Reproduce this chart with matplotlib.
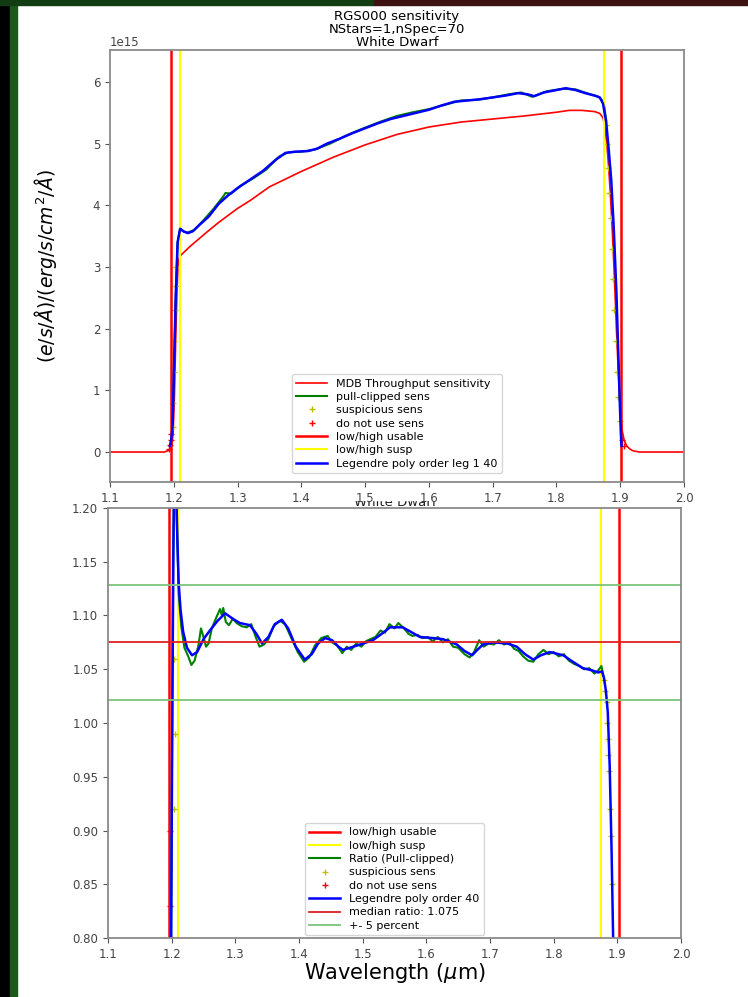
import matplotlib
matplotlib.use('Agg')
import matplotlib.pyplot as plt
from matplotlib.patches import Rectangle

# --- sensitivity (units of 1e15) ---
mdb_wl = [1.10, 1.15, 1.185, 1.193, 1.197, 1.199, 1.201, 1.203, 1.205, 1.207, 1.210, 1.225,
          1.25, 1.27, 1.30, 1.32, 1.35, 1.40, 1.45, 1.50, 1.55, 1.60, 1.65, 1.70, 1.75,
          1.80, 1.82, 1.84, 1.86, 1.868, 1.873, 1.876, 1.879, 1.882, 1.885, 1.888,
          1.891, 1.894, 1.897, 1.900, 1.903, 1.906, 1.910, 1.915, 1.92, 1.93, 2.00]
mdb_sens = [0.0, 0.0, 0.0, 0.03, 0.1, 0.3, 0.9, 1.8, 2.6, 3.1, 3.18, 3.33,
            3.55, 3.72, 3.95, 4.08, 4.30, 4.55, 4.78, 4.98, 5.15, 5.27, 5.35, 5.40, 5.45,
            5.51, 5.54, 5.54, 5.52, 5.49, 5.42, 5.27, 5.0, 4.6, 4.1, 3.5,
            2.8, 2.0, 1.3, 0.7, 0.35, 0.2, 0.1, 0.05, 0.02, 0.0, 0.0]

fit_wl = [1.194, 1.196, 1.198, 1.200, 1.203, 1.206, 1.210, 1.215, 1.222, 1.230, 1.240,
          1.255, 1.270, 1.285, 1.300, 1.320, 1.340, 1.360, 1.375, 1.390, 1.410, 1.425,
          1.440, 1.460, 1.480, 1.500, 1.520, 1.540, 1.560, 1.580, 1.600, 1.620, 1.640,
          1.660, 1.680, 1.700, 1.720, 1.740, 1.755, 1.765, 1.780, 1.800, 1.815, 1.830,
          1.845, 1.860, 1.868, 1.873, 1.878, 1.882, 1.886, 1.890, 1.894, 1.897, 1.899,
          1.901, 1.902]
fit_sens = [0.1, 0.2, 0.4, 1.2, 2.5, 3.4, 3.62, 3.58, 3.55, 3.58, 3.68,
            3.82, 4.02, 4.16, 4.28, 4.42, 4.56, 4.74, 4.85, 4.87, 4.88, 4.92,
            5.00, 5.08, 5.17, 5.25, 5.33, 5.40, 5.45, 5.50, 5.55, 5.62, 5.68,
            5.70, 5.72, 5.75, 5.78, 5.82, 5.80, 5.77, 5.83, 5.87, 5.90, 5.87,
            5.82, 5.78, 5.75, 5.65, 5.35, 4.90, 4.40, 3.60, 2.60, 1.60, 0.90,
            0.30, 0.10]

clip_wl = [1.198, 1.200, 1.203, 1.206, 1.210, 1.216, 1.222, 1.232, 1.245, 1.262, 1.278,
           1.281, 1.290, 1.305, 1.325, 1.345, 1.365, 1.380, 1.400, 1.420, 1.445, 1.470,
           1.495, 1.525, 1.550, 1.575, 1.600, 1.625, 1.650, 1.675, 1.700, 1.725, 1.745,
           1.762, 1.785, 1.810, 1.830, 1.850, 1.866, 1.874, 1.878]
clip_sens = [0.4, 1.2, 2.5, 3.4, 3.63, 3.57, 3.56, 3.60, 3.74, 3.94, 4.15,
             4.20, 4.19, 4.32, 4.44, 4.58, 4.79, 4.86, 4.87, 4.90, 5.00, 5.13,
             5.24, 5.36, 5.45, 5.51, 5.56, 5.63, 5.70, 5.71, 5.75, 5.80, 5.83,
             5.76, 5.85, 5.89, 5.88, 5.81, 5.76, 5.68, 5.38]

susp_wl = [1.198, 1.199, 1.200, 1.201, 1.202, 1.203, 1.204,
           1.877, 1.879, 1.881, 1.883, 1.885, 1.887, 1.889, 1.891, 1.893, 1.895, 1.897, 1.899]
susp_sens = [0.4, 0.8, 1.3, 1.8, 2.3, 2.7, 3.0,
             5.3, 5.0, 4.6, 4.2, 3.8, 3.3, 2.8, 2.3, 1.8, 1.3, 0.9, 0.5]
bad_wl = [1.192, 1.194, 1.195, 1.196, 1.903, 1.906]
bad_sens = [0.05, 0.12, 0.2, 0.3, 0.2, 0.1]

# --- ratio to median ---
ratio_wl = [1.199, 1.202, 1.205, 1.208, 1.211, 1.215, 1.220, 1.226, 1.231, 1.236, 1.242,
            1.246, 1.250, 1.254, 1.258, 1.263, 1.270, 1.276, 1.279, 1.281, 1.285, 1.290,
            1.296, 1.302, 1.310, 1.318, 1.325, 1.332, 1.338, 1.345, 1.352, 1.360, 1.370,
            1.378, 1.388, 1.398, 1.408, 1.416, 1.425, 1.435, 1.445, 1.452, 1.460, 1.468,
            1.475, 1.482, 1.490, 1.498, 1.505, 1.512, 1.520, 1.528, 1.535, 1.542, 1.550,
            1.556, 1.565, 1.572, 1.578, 1.586, 1.594, 1.602, 1.610, 1.618, 1.626, 1.634,
            1.642, 1.650, 1.660, 1.668, 1.675, 1.683, 1.690, 1.698, 1.706, 1.714, 1.722,
            1.730, 1.738, 1.745, 1.752, 1.760, 1.768, 1.776, 1.784, 1.792, 1.800, 1.808,
            1.816, 1.824, 1.832, 1.840, 1.848, 1.856, 1.864, 1.870, 1.875, 1.878]
ratio_val = [0.78, 1.15, 1.28, 1.19, 1.12, 1.09, 1.07, 1.062, 1.054, 1.058, 1.072,
             1.088, 1.080, 1.071, 1.074, 1.088, 1.098, 1.106, 1.100, 1.107, 1.094, 1.091,
             1.097, 1.093, 1.090, 1.089, 1.092, 1.080, 1.071, 1.073, 1.078, 1.090, 1.095,
             1.092, 1.079, 1.066, 1.057, 1.061, 1.072, 1.079, 1.081, 1.075, 1.072, 1.065,
             1.071, 1.068, 1.074, 1.071, 1.076, 1.078, 1.080, 1.086, 1.084, 1.092, 1.088,
             1.093, 1.088, 1.083, 1.081, 1.082, 1.079, 1.080, 1.076, 1.080, 1.075, 1.078,
             1.071, 1.070, 1.064, 1.061, 1.066, 1.077, 1.071, 1.074, 1.073, 1.077, 1.073,
             1.075, 1.069, 1.067, 1.062, 1.058, 1.057, 1.064, 1.068, 1.064, 1.066, 1.062,
             1.064, 1.058, 1.055, 1.053, 1.050, 1.051, 1.046, 1.049, 1.053, 1.044]

leg_wl = [1.199, 1.2005, 1.202, 1.2035, 1.205, 1.207, 1.209, 1.211, 1.214, 1.218, 1.224,
          1.232, 1.240, 1.250, 1.260, 1.272, 1.284, 1.296, 1.307, 1.323, 1.333, 1.342,
          1.352, 1.362, 1.373, 1.383, 1.395, 1.409, 1.420, 1.430, 1.441, 1.452, 1.462,
          1.469, 1.480, 1.496, 1.516, 1.530, 1.543, 1.563, 1.575, 1.590, 1.610, 1.626,
          1.648, 1.660, 1.672, 1.680, 1.689, 1.705, 1.727, 1.742, 1.755, 1.768, 1.780,
          1.794, 1.815, 1.830, 1.846, 1.860, 1.870, 1.876, 1.879, 1.882, 1.885, 1.888,
          1.891, 1.894]
leg_val = [0.78, 0.95, 1.10, 1.21, 1.26, 1.22, 1.17, 1.13, 1.105, 1.085, 1.070,
           1.063, 1.066, 1.078, 1.086, 1.095, 1.102, 1.097, 1.093, 1.091, 1.083, 1.074,
           1.080, 1.092, 1.096, 1.088, 1.071, 1.059, 1.064, 1.074, 1.079, 1.077, 1.071,
           1.068, 1.070, 1.073, 1.077, 1.083, 1.089, 1.089, 1.085, 1.080, 1.079, 1.078,
           1.073, 1.067, 1.063, 1.068, 1.073, 1.075, 1.074, 1.071, 1.064, 1.059, 1.063,
           1.066, 1.063, 1.057, 1.051, 1.049, 1.047, 1.048, 1.042, 1.030, 1.010, 0.960,
           0.880, 0.780]

rsusp_wl = [1.203, 1.204, 1.205, 1.879, 1.881, 1.883, 1.884, 1.885, 1.886, 1.887, 1.889, 1.890, 1.892]
rsusp_val = [0.92, 1.06, 0.99, 1.04, 1.03, 1.02, 1.00, 0.985, 0.97, 0.955, 0.92, 0.895, 0.85]
rbad_wl = [1.197, 1.198]
rbad_val = [0.83, 0.90]

usable = [1.196, 1.902]
susp = [1.210, 1.874]
median_ratio = 1.075

fig = plt.figure(figsize=(7.48, 9.97), dpi=100, facecolor='black')
fig.add_artist(Rectangle((18 / 748, 0), 1 - 18 / 748, 1 - 6 / 997,
                         transform=fig.transFigure, color='white', zorder=-5))
fig.add_artist(Rectangle((10 / 748, 0), 7 / 748, 1, transform=fig.transFigure,
                         color='#1c5a1c', zorder=-5))
fig.add_artist(Rectangle((0, 1 - 5 / 997), 0.5, 5 / 997, transform=fig.transFigure,
                         color='#123d12', zorder=-5))
fig.add_artist(Rectangle((0.5, 1 - 5 / 997), 0.5, 5 / 997, transform=fig.transFigure,
                         color='#3d1212', zorder=-5))

tick_kw = dict(labelsize=8.5, colors='#555555', labelcolor='#444444')
spine_col = '#8a8a8a'
leg_kw = dict(loc='lower center', fontsize=8, handlelength=2.8, labelspacing=0.3,
              framealpha=0.8)

# top panel: sensitivity
ax1 = fig.add_axes([110 / 748, 1 - 482 / 997, 574 / 748, 432 / 997])
e15 = 1e15
ax1.plot(mdb_wl, [v * e15 for v in mdb_sens], color='red', lw=1.2, label='MDB Throughput sensitivity')
ax1.plot(clip_wl, [v * e15 for v in clip_sens], color='green', lw=1.5, label='pull-clipped sens')
ax1.plot(susp_wl, [v * e15 for v in susp_sens], '+', color='y', ms=5, label='suspicious sens')
ax1.plot(bad_wl, [v * e15 for v in bad_sens], '+', color='red', ms=5, label='do not use sens')
ax1.axvline(usable[0], color='red', lw=1.8, label='low/high usable')
ax1.axvline(usable[1], color='red', lw=1.8)
ax1.axvline(susp[0], color='yellow', lw=1.5, label='low/high susp')
ax1.axvline(susp[1], color='yellow', lw=1.5)
ax1.plot(fit_wl, [v * e15 for v in fit_sens], color='blue', lw=1.8, label='Legendre poly order leg 1 40')
ax1.set_xlim(1.1, 2.0)
ax1.set_ylim(-0.486e15, 6.519e15)
ax1.set_xticks([1.1, 1.2, 1.3, 1.4, 1.5, 1.6, 1.7, 1.8, 1.9, 2.0])
ax1.set_ylabel(r'$(e/s/\AA)/(erg/s/cm^2/\AA)$', fontsize=13.5, labelpad=24)
ax1.yaxis.get_offset_text().set_fontsize(8.5)
ax1.set_title('RGS000 sensitivity\nNStars=1,nSpec=70\nWhite Dwarf', fontsize=9.5,
              linespacing=1.0, pad=3)
ax1.legend(borderaxespad=0.8, **leg_kw)

# bottom panel: ratio to median
ax2 = fig.add_axes([108 / 748, 1 - 938 / 997, 573 / 748, 430 / 997])
ax2.axvline(usable[0], color='red', lw=1.8, label='low/high usable')
ax2.axvline(usable[1], color='red', lw=1.8)
ax2.axvline(susp[0], color='yellow', lw=1.5, label='low/high susp')
ax2.axvline(susp[1], color='yellow', lw=1.5)
ax2.plot(ratio_wl, ratio_val, color='green', lw=1.5, label='Ratio (Pull-clipped)')
ax2.plot(rsusp_wl, rsusp_val, '+', color='y', ms=5, label='suspicious sens')
ax2.plot(rbad_wl, rbad_val, '+', color='red', ms=5, label='do not use sens')
ax2.plot(leg_wl, leg_val, color='blue', lw=1.8, label='Legendre poly order 40')
ax2.axhline(median_ratio, color='#e02020', lw=1.3, label='median ratio: %.3f' % median_ratio)
ax2.axhline(median_ratio * 1.05, color='#7cc47c', lw=1.3, label='+- 5 percent')
ax2.axhline(median_ratio * 0.95, color='#7cc47c', lw=1.3)
ax2.set_xlim(1.1, 2.0)
ax2.set_ylim(0.8, 1.2)
ax2.set_xticks([1.1, 1.2, 1.3, 1.4, 1.5, 1.6, 1.7, 1.8, 1.9, 2.0])
ax2.set_yticks([0.80, 0.85, 0.90, 0.95, 1.00, 1.05, 1.10, 1.15, 1.20])
ax2.yaxis.set_major_formatter(matplotlib.ticker.FormatStrFormatter('%.2f'))
ax2.set_xlabel(r'Wavelength ($\mu$m)', fontsize=15, labelpad=0)
ax2.legend(borderaxespad=0.25, **leg_kw)

# second panel title; its upper half sits behind the top panel's tick labels
fig.text(0.528, 1 - 506 / 997, 'White Dwarf', fontsize=9.5, ha='center',
         va='baseline', color='#222222', zorder=-3)
fig.add_artist(Rectangle((0.3, 1 - 500 / 997), 0.45, 12 / 997,
                         transform=fig.transFigure, color='white', zorder=-2))

for ax in (ax1, ax2):
    ax.tick_params(**tick_kw)
    for sp in ax.spines.values():
        sp.set_color(spine_col)
        sp.set_linewidth(1.3)

fig.savefig('out.png', dpi=100, facecolor=fig.get_facecolor())
